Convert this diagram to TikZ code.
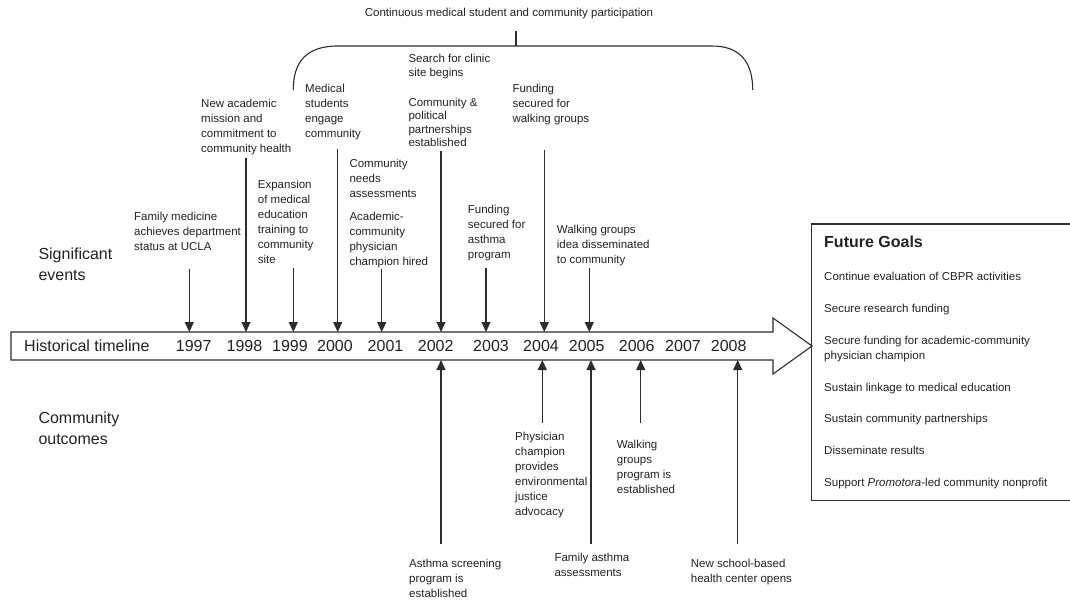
\documentclass[tikz,border=0pt]{standalone}
\usepackage{fontspec}
\setmainfont{Liberation Sans}
\usetikzlibrary{arrows.meta}
\definecolor{tc}{RGB}{35,35,35}
\definecolor{lc}{RGB}{45,45,45}
\tikzset{
  sm/.style={font=\fontsize{11.5}{15}\selectfont, text=tc, align=left, anchor=north west, inner sep=0pt},
  smt/.style={sm, font=\fontsize{11.5}{13.5}\selectfont},
  big/.style={font=\fontsize{16}{21}\selectfont, text=tc, align=left, inner sep=0pt},
  yr/.style={font=\fontsize{16}{19}\selectfont, text=tc, inner sep=0pt},
  ev/.style={draw=lc, line width=1.1pt, -{Triangle[width=9pt,length=10pt]}},
  frame/.style={draw=lc, line width=1.1pt},
}
\begin{document}
\begin{tikzpicture}[x=1pt,y=-1pt]
\useasboundingbox (0,0) rectangle (1070,602);
% timeline arrow
\draw[frame, fill=white] (11,332) -- (773,332) -- (773,318) -- (812,346) -- (773,374) -- (773,360) -- (11,360) -- cycle;
\coordinate (tltop) at (0,332);
\coordinate (tlbot) at (0,360);
\node[big, anchor=west] (ht) at (24,346) {Historical timeline};
\foreach \yy/\xx in {1997/193.7,1998/244.5,1999/290,2000/335,2001/385.5,2002/435.7,2003/491,2004/541,2005/586.7,2006/636.7,2007/683,2008/728.7}
  \node[yr] (y\yy) at (\xx,346) {\yy};
% side labels
\node[big, anchor=north west] (se) at (38.3,248) {Significant\\events};
\node[big, anchor=north west] (co) at (38.3,412) {Community\\outcomes};
% brace
\node[font=\fontsize{11.5}{15}\selectfont, text=tc, inner sep=0pt] (cont) at (509,14) {Continuous medical student and community participation};
\coordinate (brl) at (293.3,90);
\coordinate (brr) at (752.7,90);
\coordinate (brm) at (516,46);
\coordinate (brt) at (516,31);
\draw[frame] (brl) .. controls (293.3,62) and (306,46) .. (338,46) -- (712,46) .. controls (740,46) and (752.7,62) .. (brr);
\draw[frame] (brt) -- (brm);
% significant events texts
\node[sm] (t97) at (134,211.5) {Family medicine\\achieves department\\status at UCLA};
\node[sm] (t98) at (201,99) {New academic\\mission and\\commitment to\\community health};
\node[sm] (t99) at (257.7,180) {Expansion\\of medical\\education\\training to\\community\\site};
\node[sm] (t00) at (305,84) {Medical\\students\\engage\\community};
\node[sm] (t01a) at (349.3,158.5) {Community\\needs\\assessments};
\node[sm] (t01b) at (349.3,211.5) {Academic-\\community\\physician\\champion hired};
\node[smt] (t02a) at (408.3,54) {Search for clinic\\site begins};
\node[smt] (t02b) at (408.3,97.5) {Community \&\\political\\partnerships\\established};
\node[sm] (t03) at (467.7,205) {Funding\\secured for\\asthma\\program};
\node[sm] (t04) at (512.3,84) {Funding\\secured for\\walking groups};
\node[sm] (t05) at (556.7,225) {Walking groups\\idea disseminated\\to community};
% event arrows
\coordinate (a97) at (189.3,269);
\coordinate (a98) at (246,158);
\coordinate (a99) at (293.3,268);
\coordinate (a00) at (337.7,149);
\coordinate (a01) at (381.7,269);
\coordinate (a02) at (441,151);
\coordinate (a03) at (486,268);
\coordinate (a04) at (544.3,150);
\coordinate (a05) at (589.3,268);
\foreach \c in {a97,a98,a99,a00,a01,a02,a03,a04,a05}
  \draw[ev] (\c) -- (\c |- tltop);
% community outcomes
\coordinate (b02) at (441,544);
\coordinate (b04) at (542.3,423);
\coordinate (b05) at (591,544);
\coordinate (b06) at (640.7,423);
\coordinate (b08) at (737.7,544);
\foreach \c in {b02,b04,b05,b06,b08}
  \draw[ev] (\c) -- (\c |- tlbot);
\node[sm] (o02) at (409,558.5) {Asthma screening\\program is\\established};
\node[sm] (o04) at (515,431.5) {Physician\\champion\\provides\\environmental\\justice\\advocacy};
\node[sm] (o05) at (554.3,552.5) {Family asthma\\assessments};
\node[sm] (o06) at (616.7,440) {Walking\\groups\\program is\\established};
\node[sm] (o08) at (690.7,558.5) {New school-based\\health center opens};
% future goals
\draw[frame] (811.7,224) rectangle (1076,500.7);
\node[font=\fontsize{16}{19}\bfseries, text=tc, inner sep=0pt, anchor=west] (fg) at (824,241.7) {Future Goals};
\node[sm] (g1) at (824,271.5) {Continue evaluation of CBPR activities};
\node[sm] (g2) at (824,304) {Secure research funding};
\node[sm] (g3) at (824,335.7) {Secure funding for academic-community\\physician champion};
\node[sm] (g4) at (824,382.5) {Sustain linkage to medical education};
\node[sm] (g5) at (824,414) {Sustain community partnerships};
\node[sm] (g6) at (824,445.7) {Disseminate results};
\node[sm] (g7) at (824,477.5) {Support \textit{Promotora}-led community nonprofit};
\end{tikzpicture}
\end{document}
